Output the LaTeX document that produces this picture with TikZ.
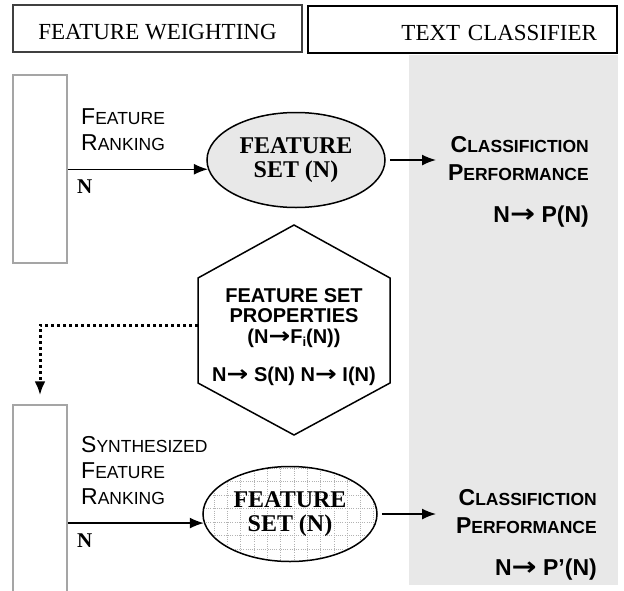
\documentclass[tikz,border=0pt]{standalone}
\usepackage{fontspec}
\setmainfont{Liberation Serif}
\setsansfont{Liberation Sans}
\newfontfamily\arrowfont{DejaVu Sans}
\usetikzlibrary{arrows.meta,calc,shapes.geometric}
\definecolor{bandgray}{RGB}{232,232,232}
\definecolor{boxgray}{RGB}{165,165,165}
\newcommand{\capsc}[2]{{\fontsize{23}{23}\selectfont #1}{\fontsize{17.5}{17.5}\selectfont #2}}
\newcommand{\thickarr}{{\arrowfont\bfseries\scalebox{1.3}[1.1]{→}}}
\begin{document}
\begin{tikzpicture}[x=1pt,y=-1pt,>={Latex[length=14pt,width=11pt]},
headbox/.style={draw,line width=1.5pt,minimum height=47pt,inner sep=0pt,text height=21pt,text depth=0pt,font=\fontsize{23}{23}\selectfont},
sidebox/.style={draw=boxgray,line width=1.5pt,minimum width=54pt,inner sep=0pt},
setnode/.style={ellipse,draw,line width=1.5pt,inner sep=0pt,align=center,minimum height=95pt,font=\fontsize{24}{24}\selectfont\bfseries},
ranklabel/.style={anchor=north west,align=left,inner sep=0pt,font=\sffamily\fontsize{23}{26}\selectfont},
perflabel/.style={anchor=north east,align=right,inner sep=0pt,font=\sffamily\bfseries\fontsize{23}{28}\selectfont},
nlabel/.style={anchor=base west,inner sep=0pt,font=\bfseries\fontsize{21}{21}\selectfont},
arr/.style={->,line width=1.5pt},
dotarr/.style={->,line width=3pt,dash pattern=on 3pt off 3pt},
gridline/.style={gray!60,line width=1pt,dash pattern=on 1pt off 1.2pt}]

\useasboundingbox (0,0) rectangle (624,590);
\fill[bandgray] (409,55) rectangle (618,585);

% headers
\node[headbox,draw=black!75,minimum width=289pt] (weighting) at (157.5,28.5) {FEATURE WEIGHTING};
\node[headbox,line width=1.8pt,minimum width=309pt,text width=269pt,align=right,inner xsep=20pt] (classifier) at (462.5,29.5) {TEXT CLASSIFIER};

% feature ranking
\node[sidebox,minimum height=188pt] (rankbox) at (40,169) {};
\node[ranklabel] (rank) at (81,108) {\capsc{F}{EATURE}\\\capsc{R}{ANKING}};
\node[setnode,fill=bandgray,minimum width=178pt] (set1) at (296,160) {FEATURE\\SET (N)};
\node[nlabel] (n1) at (77,193) {N};
\draw[arr] (rankbox.east |- set1.186) -- (set1.186);
\coordinate (perfin1) at (436,160);
\draw[arr,shorten <=4pt] (set1.east) -- (perfin1);
\node[perflabel] (perf1) at (589,136) {\capsc{C}{LASSIFICTION}\\\capsc{P}{ERFORMANCE}\\[14pt]N\thickarr{} P(N)};

% properties
\node[font=\sffamily\bfseries\fontsize{20}{20.5}\selectfont,align=center,inner sep=0pt] (props) at (294,337) {FEATURE SET\\PROPERTIES\\(N\thickarr F{\fontsize{13}{13}\selectfont\raisebox{-3pt}{i}}(N))\\[18pt]N\thickarr{} S(N) N\thickarr{} I(N)};
\draw[line width=1.5pt] ($(props)+(0,-112)$) -- ($(props)+(96,-59)$) -- ($(props)+(96,46)$) -- ($(props)+(0,98)$) -- ($(props)+(-96,46)$) -- ($(props)+(-96,-59)$) -- cycle;
\coordinate (propsw) at ($(props)+(-96,-12)$);

% synthesized ranking
\node[sidebox,minimum height=200pt] (synbox) at (40,505) {};
\draw[dotarr,shorten >=9pt] (propsw) -| (synbox.north);
\node[ranklabel] (synrank) at (81,436) {\capsc{S}{YNTHESIZED}\\\capsc{F}{EATURE}\\\capsc{R}{ANKING}};
\coordinate (c2) at (290,514);
\begin{scope}
\clip (c2) ellipse [x radius=87, y radius=47.5];
\foreach \x in {0,...,14} \draw[gridline] (201+13.3*\x,460) -- (201+13.3*\x,570);
\foreach \y in {0,...,8} \draw[gridline] (195,468+13.5*\y) -- (390,468+13.5*\y);
\end{scope}
\node[setnode,minimum width=174pt] (set2) at (c2) {FEATURE\\SET (N)};
\node[nlabel] (n2) at (77,547) {N};
\draw[arr] (synbox.east |- set2.186) -- (set2.186);
\coordinate (perfin2) at (436,514);
\draw[arr,shorten <=4pt] (set2.east) -- (perfin2);
\node[perflabel] (perf2) at (597,489) {\capsc{C}{LASSIFICTION}\\\capsc{P}{ERFORMANCE}\\[14pt]N\thickarr{} P’(N)};
\end{tikzpicture}
\end{document}
